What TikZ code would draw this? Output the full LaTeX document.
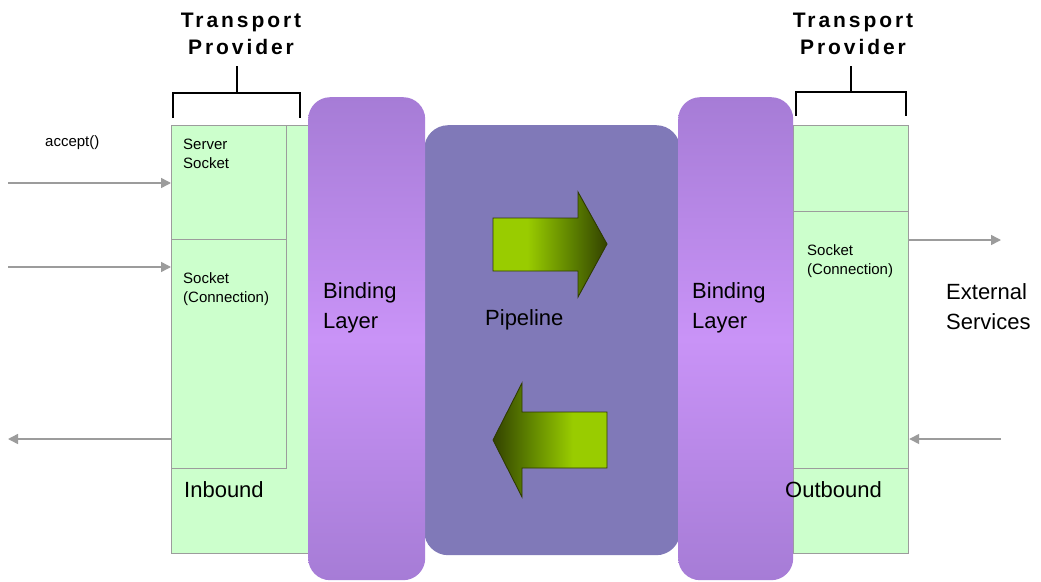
\documentclass[tikz,border=0pt]{standalone}
\usepackage{fontspec}
\setmainfont{Liberation Sans}
\usetikzlibrary{arrows.meta}
\definecolor{gfill}{HTML}{CCFFCC}
\definecolor{gline}{HTML}{9C9C9C}
\definecolor{pipec}{HTML}{8079B8}
\definecolor{bindD}{HTML}{A67CD6}
\definecolor{bindL}{HTML}{C993F7}
\definecolor{olive}{HTML}{2E3A00}
\pgfdeclarehorizontalshading{greenR}{100bp}{rgb(0bp)=(0.6,0.8,0); rgb(40bp)=(0.6,0.8,0); rgb(60bp)=(0.36,0.5,0); rgb(75bp)=(0.2,0.26,0); rgb(100bp)=(0.2,0.26,0)}
\pgfdeclarehorizontalshading{greenL}{100bp}{rgb(0bp)=(0.2,0.26,0); rgb(25bp)=(0.2,0.26,0); rgb(40bp)=(0.36,0.5,0); rgb(60bp)=(0.6,0.8,0); rgb(100bp)=(0.6,0.8,0)}
\begin{document}
\begin{tikzpicture}[x=1pt,y=-1pt,
  gbox/.style={draw=gline, fill=gfill, line width=1.2pt, inner sep=0pt, anchor=north west},
  bindbox/.style={rounded corners=22pt, top color=bindD, bottom color=bindD, middle color=bindL, draw=none, inner sep=0pt, anchor=north west, minimum height=483},
  garrow/.style={draw=gline, line width=1.5pt, -{Triangle[length=10pt,width=10pt]}},
  bracket/.style={draw=black, line width=1.8pt},
  txt/.style={inner sep=0pt, anchor=west, align=left},
  big/.style={font=\fontsize{22}{30}\selectfont},
  small/.style={font=\fontsize{15}{19.5}\selectfont},
  title/.style={inner sep=0pt, align=center, font=\fontsize{21}{27}\selectfont\bfseries\addfontfeatures{LetterSpace=14}},
  greenarrow/.style={draw=olive, line width=0.9pt}]
\useasboundingbox (0,0) rectangle (1041,581);
\fill[white] (0,0) rectangle (1041,581);

% left transport provider
\node[gbox, minimum width=137, minimum height=428] (lout) at (171,125) {};
\node[gbox, minimum width=115, minimum height=114] (lss) at (171,125) {};
\node[gbox, minimum width=115, minimum height=229] (lsc) at (171,239) {};

% right transport provider
\node[gbox, minimum width=115, minimum height=428] (rout) at (793,125) {};
\node[gbox, minimum width=115, minimum height=257] (rsc) at (793,211) {};

% pipeline
\node[fill=pipec, rounded corners=24pt, inner sep=0pt, anchor=north west, minimum width=256, minimum height=430] (pipe) at (424,125) {};

% binding layers
\node[bindbox, minimum width=117] (bl) at (308,97) {};
\node[bindbox, minimum width=115] (br) at (678,97) {};

% green arrows
\shadedraw[greenarrow, shading=greenR] (493,218) -- (578,218) -- (578,192) -- (607,244) -- (578,297) -- (578,271) -- (493,271) -- cycle;
\shadedraw[greenarrow, shading=greenL] (607,412) -- (522,412) -- (522,383) -- (493,440) -- (522,497) -- (522,468) -- (607,468) -- cycle;

% titles and brackets
\node[title] (tl) at (241,33.5) {Transport\\Provider};
\node[title] (tr) at (853,33.5) {Transport\\Provider};
\draw[bracket] (173,118) -- (173,93) -- (300,93) -- (300,118);
\draw[bracket] (237,93) -- (237,66);
\draw[bracket] (796,116) -- (796,92) -- (906,92) -- (906,116);
\draw[bracket] (851,92) -- (851,66);

% gray arrows
\coordinate (a1) at (8,183);
\coordinate (a2) at (8,267);
\coordinate (a3) at (8,439);
\coordinate (a4) at (1001,240);
\coordinate (a5) at (1001,439);
\draw[garrow] (a1) -- (a1 -| lss.west);
\draw[garrow] (a2) -- (a2 -| lsc.west);
\draw[garrow] (a3 -| lsc.west) -- (a3);
\draw[garrow] (a4 -| rout.east) -- (a4);
\draw[garrow] (a5) -- (a5 -| rout.east);

% texts
\node[txt, small] (acc) at (45,143) {accept()};
\node[txt, small, font=\fontsize{15}{18.5}\selectfont] (tss) at (183,154) {Server\\Socket};
\node[txt, small] (tsc) at (183,289) {Socket\\(Connection)};
\node[txt, big] (tin) at (184,490) {Inbound};
\node[txt, big] (tbl) at (323,308) {Binding\\Layer};
\node[txt, big] (tpi) at (485,320) {Pipeline};
\node[txt, big] (tbr) at (692,308) {Binding\\Layer};
\node[txt, small] (trc) at (807,261) {Socket\\(Connection)};
\node[txt, big] (tex) at (946,307) {External\\Services};
\node[txt, big] (tout) at (785,490) {Outbound};
\end{tikzpicture}
\end{document}
